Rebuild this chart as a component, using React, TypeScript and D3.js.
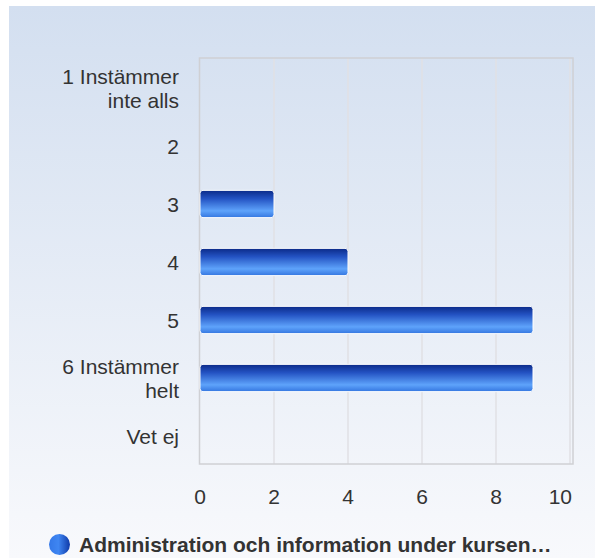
import React from 'react';
import * as d3 from 'd3';

const categories = [
  ['1 Instämmer', 'inte alls'],
  ['2'],
  ['3'],
  ['4'],
  ['5'],
  ['6 Instämmer', 'helt'],
  ['Vet ej'],
];
const values = [0, 0, 2, 4, 9, 9, 0];
const xTicks = [0, 2, 4, 6, 8, 10];
const seriesName = 'Administration och information under kursen…';

const W = 595;
const H = 558;
const font = '"Liberation Sans", Arial, sans-serif';

const App = () => {
  const plot = { left: 199.5, right: 573, top: 58, bottom: 464 };

  const x = d3.scaleLinear().domain([0, 10]).range([200, 570]);
  const y = d3
    .scaleBand<number>()
    .domain(d3.range(categories.length))
    .range([plot.top, plot.bottom])
    .padding(0);

  const barH = y.bandwidth() * 0.47;

  return (
    <svg
      width={W}
      height={H}
      style={{ position: 'absolute', left: 0, top: 0 }}
      fontFamily={font}
    >
      <defs>
        <linearGradient id="bg" x1="0" y1="0" x2="0" y2="1">
          <stop offset="0" stopColor="#d3dff0" />
          <stop offset="1" stopColor="#f8f9fc" />
        </linearGradient>
        <linearGradient id="bar" x1="0" y1="0" x2="0" y2="1">
          <stop offset="0" stopColor="#0b2a88" />
          <stop offset="0.3" stopColor="#2352c2" />
          <stop offset="0.75" stopColor="#5ea3fb" />
          <stop offset="1" stopColor="#3476e0" />
        </linearGradient>
        <linearGradient id="dot" x1="0" y1="0" x2="1" y2="0">
          <stop offset="0" stopColor="#3478e8" />
          <stop offset="0.45" stopColor="#3f86f2" />
          <stop offset="1" stopColor="#0f3aa8" />
        </linearGradient>
      </defs>

      <rect x={9} y={6} width={W - 9} height={H - 6} fill="url(#bg)" />

      {/* grid */}
      {xTicks.slice(1).map((t) => (
        <line
          key={t}
          x1={x(t)}
          x2={x(t)}
          y1={plot.top}
          y2={plot.bottom}
          stroke="#e0e1e4"
          strokeWidth={1.5}
        />
      ))}
      <rect
        x={plot.left}
        y={plot.top}
        width={plot.right - plot.left}
        height={plot.bottom - plot.top}
        fill="none"
        stroke="#cfd0d4"
        strokeWidth={1.5}
      />

      {/* bars */}
      {values.map((v, i) =>
        v > 0 ? (
          <rect
            key={i}
            x={x(0)}
            y={(y(i) as number) + y.bandwidth() / 2 - barH / 2 + 1}
            width={x(v) - x(0)}
            height={barH}
            rx={3}
            fill="url(#bar)"
            stroke="#ffffff"
            strokeWidth={1}
          />
        ) : null
      )}

      {/* category labels */}
      {categories.map((lines, i) => {
        const c = (y(i) as number) + y.bandwidth() / 2;
        return (
          <text key={i} textAnchor="end" fontSize={21} fill="#333333">
            {lines.map((l, j) => (
              <tspan key={j} x={179} y={c + (j - (lines.length - 1) / 2) * 24 + 9}>
                {l}
              </tspan>
            ))}
          </text>
        );
      })}

      {/* x tick labels */}
      {xTicks.map((t, i) => {
        const last = i === xTicks.length - 1;
        return (
          <text
            key={t}
            x={last ? plot.right - 1 : x(t)}
            y={504}
            textAnchor={last ? 'end' : 'middle'}
            fontSize={21}
            fill="#333333"
          >
            {t}
          </text>
        );
      })}

      {/* legend */}
      <circle cx={59.5} cy={544.5} r={10.5} fill="url(#dot)" />
      <text x={79} y={552} fontSize={21} fontWeight="bold" fill="#333333">
        {seriesName}
      </text>
    </svg>
  );
};

export default App;
